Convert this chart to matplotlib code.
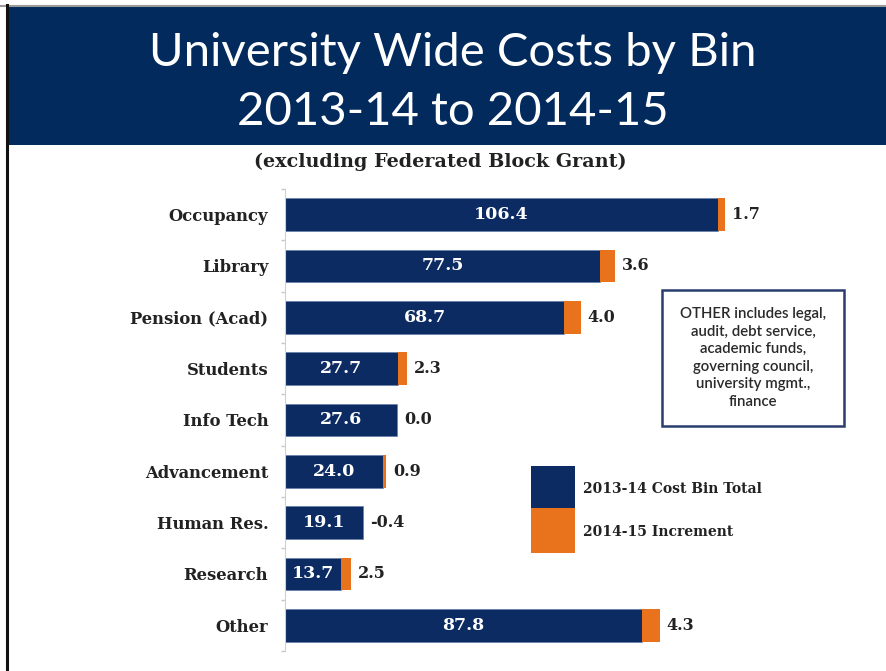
import numpy as np
import matplotlib.pyplot as plt
from matplotlib.patches import Rectangle
from matplotlib.lines import Line2D

# data
categories = ["Occupancy", "Library", "Pension (Acad)", "Students", "Info Tech",
              "Advancement", "Human Res.", "Research", "Other"]
base_1314 = [106.4, 77.5, 68.7, 27.7, 27.6, 24.0, 19.1, 13.7, 87.8]
incr_1415 = [1.7, 3.6, 4.0, 2.3, 0.0, 0.9, -0.4, 2.5, 4.3]

navy = "#0c2b62"
banner = "#022a5d"
orange = "#e8731c"
W, H = 887, 671

fig = plt.figure(figsize=(W / 100, H / 100), dpi=100)
fig.patch.set_facecolor("white")

def fx(px):
    return px / W

def fy(py):
    return 1 - py / H

# slide frame + title banner
fig.add_artist(Line2D([fx(0), 1], [fy(5.5), fy(5.5)], color="#9a9a9a", lw=1.5))
fig.add_artist(Line2D([fx(7), fx(7)], [0, fy(5)], color="#111111", lw=2.2))
fig.add_artist(Rectangle((fx(8), fy(145)), 1 - fx(8), fy(7) - fy(145),
                         transform=fig.transFigure, facecolor=banner, edgecolor="none"))
fig.text(fx(453), fy(66), "University Wide Costs by Bin", color="white",
         family="Lato", fontsize=34, ha="center", va="baseline")
fig.text(fx(453), fy(125), "2013-14 to 2014-15", color="white",
         family="Lato", fontsize=34, ha="center", va="baseline")
fig.text(fx(440), fy(162), "(excluding Federated Block Grant)", color="#222222",
         family="DejaVu Serif", weight="bold", fontsize=13.8, ha="center", va="center")

# bar chart
ax = fig.add_axes([fx(285), fy(651), 1 - fx(285), fy(189) - fy(651)])
y = np.arange(len(categories))
ax.barh(y, base_1314, height=0.64, color=navy, edgecolor="#5a78a8", linewidth=0.4)
inc_left = [b if i >= 0 else 0 for b, i in zip(base_1314, incr_1415)]
ax.barh(y, incr_1415, left=inc_left, height=0.64, color=orange)

for yi, b, inc in zip(y, base_1314, incr_1415):
    ax.text(b / 2, yi, f"{b:.1f}", color="white", family="DejaVu Serif",
            weight="bold", fontsize=12.5, ha="center", va="center")
    ax.annotate(f"{inc:.1f}", xy=(max(b, b + inc), yi), xytext=(5, 0),
                textcoords="offset points", color="#222222", family="DejaVu Serif",
                weight="bold", fontsize=11.5, ha="left", va="center")

ax.set_xlim(0, 148)
ax.set_ylim(len(categories) - 0.5, -0.5)
ax.set_yticks(y)
ax.set_yticklabels(categories, family="DejaVu Serif", weight="bold", fontsize=11.8,
                   color="#222222")
ax.set_yticks(np.arange(len(categories) + 1) - 0.5, minor=True)
ax.tick_params(axis="y", which="major", length=0, pad=12)
ax.tick_params(axis="y", which="minor", length=3, color="#c8c8c8", width=1)
ax.set_xticks([])
for s in ["top", "right", "bottom"]:
    ax.spines[s].set_visible(False)
ax.spines["left"].set_color("#d0d0d0")
ax.set_facecolor("none")

# note box
fig.add_artist(Rectangle((fx(662), fy(426)), fx(844) - fx(662), fy(290) - fy(426),
                         transform=fig.transFigure, facecolor="white",
                         edgecolor="#2a3d6e", lw=1.8))
fig.text(fx(753), fy(358), "OTHER includes legal,\naudit, debt service,\nacademic funds,\n"
         "governing council,\nuniversity mgmt.,\nfinance", color="#2a2a2a",
         family="Lato", weight="semibold", fontsize=10.8, ha="center", va="center",
         linespacing=1.32)

# legend
fig.add_artist(Rectangle((fx(531), fy(508)), fx(575) - fx(531), fy(466) - fy(508),
                         transform=fig.transFigure, facecolor=navy, edgecolor="none"))
fig.add_artist(Rectangle((fx(531), fy(553)), fx(575) - fx(531), fy(508) - fy(553),
                         transform=fig.transFigure, facecolor=orange, edgecolor="none"))
fig.text(fx(583), fy(489), "2013-14 Cost Bin Total", color="#222222",
         family="DejaVu Serif", weight="bold", fontsize=10, ha="left", va="center")
fig.text(fx(583), fy(532), "2014-15 Increment", color="#222222",
         family="DejaVu Serif", weight="bold", fontsize=10, ha="left", va="center")

fig.savefig("out.png", dpi=100)
